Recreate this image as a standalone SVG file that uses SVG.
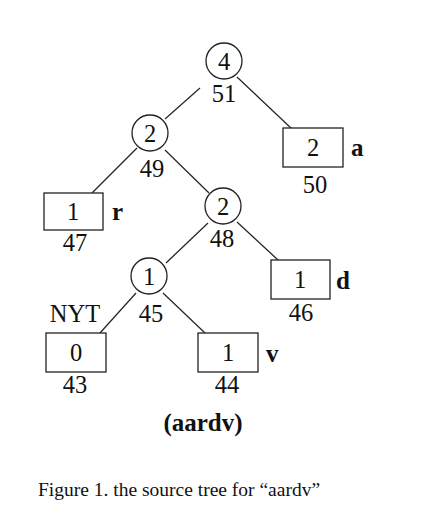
<svg xmlns="http://www.w3.org/2000/svg" width="437" height="509" viewBox="0 0 437 509">
<style>
.c{fill:#fff;stroke:#222;stroke-width:1.3}
.b{fill:#fff;stroke:#222;stroke-width:1.3}
.e{stroke:#222;stroke-width:1.2;fill:none}
text{font-family:"Liberation Serif","Times New Roman",serif;fill:#111}
.n{font-size:24.5px;text-anchor:middle}
.s{font-size:25px;font-weight:bold}
.cap{font-size:19.5px}
</style>
<rect width="437" height="509" fill="#fff"/>
<g id="connectors">
<line class="e" x1="200" y1="88" x2="165" y2="119"/>
<line class="e" x1="237" y1="77" x2="292" y2="129"/>
<line class="e" x1="137" y1="148" x2="92" y2="193"/>
<line class="e" x1="165" y1="150" x2="209" y2="193"/>
<line class="e" x1="208" y1="223" x2="166" y2="263"/>
<line class="e" x1="237" y1="222" x2="278" y2="260"/>
<line class="e" x1="136" y1="293" x2="100" y2="333"/>
<line class="e" x1="163" y1="293" x2="205" y2="333"/>
</g>
<g id="n51"><circle class="c" cx="224" cy="61" r="18"/><text class="n" x="224" y="70">4</text><text class="n" x="224" y="102">51</text></g>
<g id="n49"><circle class="c" cx="150" cy="133" r="18"/><text class="n" x="150" y="142">2</text><text class="n" x="152" y="177">49</text></g>
<g id="n50"><rect class="b" x="283" y="128" width="60" height="39"/><text class="n" x="313" y="156">2</text><text class="s" x="351" y="156">a</text><text class="n" x="315" y="193">50</text></g>
<g id="n47"><rect class="b" x="44" y="193" width="59" height="37"/><text class="n" x="73" y="220">1</text><text class="s" x="112" y="220">r</text><text class="n" x="75" y="251">47</text></g>
<g id="n48"><circle class="c" cx="223" cy="206" r="18"/><text class="n" x="223" y="215">2</text><text class="n" x="222" y="246.5">48</text></g>
<g id="n46"><rect class="b" x="271" y="260" width="59" height="39"/><text class="n" x="300" y="288">1</text><text class="s" x="336" y="289">d</text><text class="n" x="301" y="321">46</text></g>
<g id="n45"><circle class="c" cx="149" cy="276" r="18"/><text class="n" x="149" y="285">1</text><text class="n" x="151" y="321.5">45</text><text class="n" x="75" y="321.5">NYT</text></g>
<g id="n43"><rect class="b" x="46" y="333" width="60" height="39"/><text class="n" x="76" y="361">0</text><text class="n" x="75" y="393">43</text></g>
<g id="n44"><rect class="b" x="198" y="333" width="60" height="39"/><text class="n" x="228" y="361">1</text><text class="s" x="266" y="362">v</text><text class="n" x="227" y="393">44</text></g>
<text class="s" x="203" y="431" text-anchor="middle">(aardv)</text>
<text class="cap" x="38" y="496">Figure 1. the source tree for “aardv”</text>
</svg>
